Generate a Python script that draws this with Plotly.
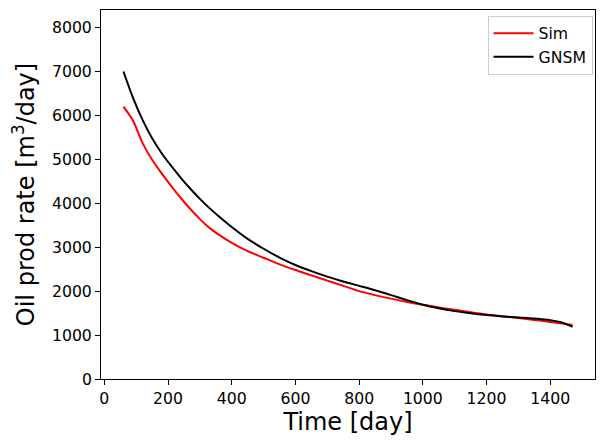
import plotly.graph_objects as go

# Time [day]
time_days = [60, 90, 120, 150, 180, 210, 240, 270, 300, 330, 360, 400, 450, 500, 550,
             600, 650, 700, 750, 800, 850, 900, 950, 1000, 1050, 1100, 1150, 1200,
             1250, 1300, 1350, 1400, 1430, 1450, 1470]

sim_rate = [6200, 5880, 5370, 4990, 4680, 4390, 4120, 3870, 3640, 3440, 3280, 3100,
            2910, 2760, 2610, 2480, 2360, 2240, 2120, 2000, 1910, 1830, 1755, 1690,
            1630, 1575, 1520, 1470, 1430, 1390, 1345, 1300, 1270, 1250, 1230]

gnsm_rate = [7000, 6400, 5900, 5480, 5140, 4850, 4580, 4330, 4100, 3890, 3700, 3460,
             3190, 2965, 2765, 2595, 2455, 2330, 2220, 2120, 2020, 1910, 1795, 1690,
             1610, 1545, 1495, 1455, 1425, 1400, 1375, 1340, 1300, 1250, 1190]

x_ticks = [0, 200, 400, 600, 800, 1000, 1200, 1400]
y_ticks = [0, 1000, 2000, 3000, 4000, 5000, 6000, 7000, 8000]

FONT = "DejaVu Sans"

fig = go.Figure()
fig.add_trace(go.Scatter(x=time_days, y=sim_rate, mode="lines", name="Sim",
                         line=dict(color="red", width=2, shape="spline", smoothing=0.8)))
fig.add_trace(go.Scatter(x=time_days, y=gnsm_rate, mode="lines", name="GNSM",
                         line=dict(color="black", width=2, shape="spline", smoothing=0.8)))

xmin, xmax = min(time_days), max(time_days)
pad = 0.05 * (xmax - xmin)
ymax = 1.2 * max(gnsm_rate)

axis_common = dict(showline=True, linecolor="black", linewidth=1, mirror=True,
                   ticks="outside", ticklen=5, tickwidth=1, tickcolor="black",
                   showgrid=False, zeroline=False,
                   tickfont=dict(family=FONT, size=15.7, color="black"))

fig.update_xaxes(range=[xmin - pad, xmax + pad], tickvals=x_ticks,
                 title=dict(text="Time [day]", font=dict(family=FONT, size=24, color="black"),
                            standoff=6),
                 **axis_common)
fig.update_yaxes(range=[0, ymax], tickvals=y_ticks,
                 title=dict(text="Oil prod rate [m<sup>3</sup>/day]",
                            font=dict(family=FONT, size=24, color="black"), standoff=12),
                 **axis_common)

fig.update_layout(
    width=597, height=435,
    margin=dict(l=93, r=10, t=2, b=64, autoexpand=False),
    paper_bgcolor="white", plot_bgcolor="white",
    font=dict(family=FONT, color="black"),
    legend=dict(x=0.995, y=0.985, xanchor="right", yanchor="top",
                bgcolor="rgba(255,255,255,0.8)", bordercolor="#cccccc", borderwidth=1,
                font=dict(family=FONT, size=15.7, color="black"), itemwidth=40,
                tracegroupgap=0),
)

fig.write_html("out.html")
